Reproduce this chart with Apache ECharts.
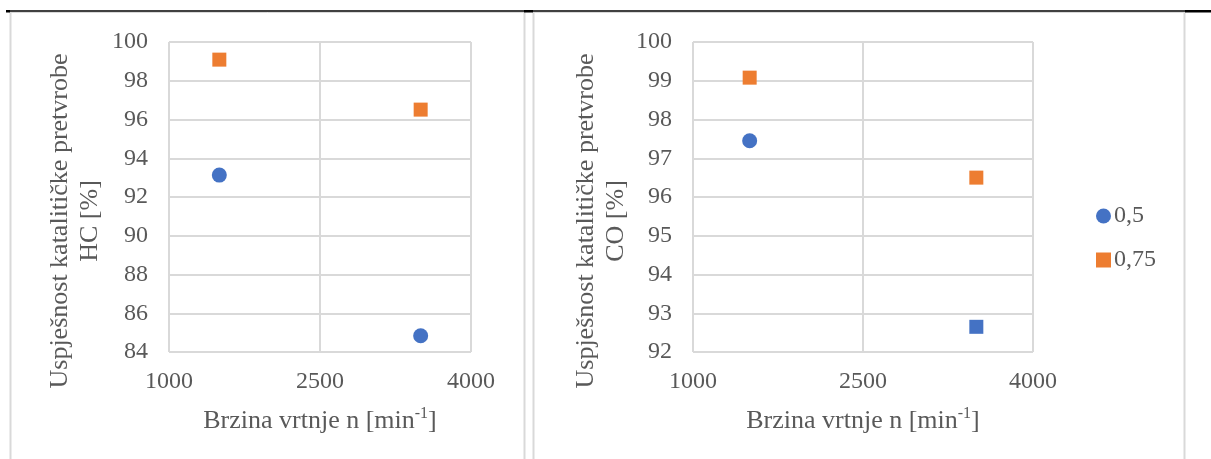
<!DOCTYPE html>
<html>
<head>
<meta charset="utf-8">
<script src="https://cdn.jsdelivr.net/npm/echarts@6/dist/echarts.min.js"></script>
<style>
html,body{margin:0;padding:0;background:#fff;}
#c{width:1211px;height:459px;}
</style>
</head>
<body>
<div id="c"></div>
<script>
// ---- data ----
const speeds = [1500, 3500];               // Brzina vrtnje n [min-1]
const seriesNames = ['0,5', '0,75'];
const hc05 = [93.13, 84.84];
const hc075 = [99.09, 96.51];
const co05 = [97.45, 92.65];
const co075 = [99.08, 96.5];
const xTitle = 'Brzina vrtnje n [min';
const yTitleLine1 = 'Uspješnost katalitičke pretvrobe';
const yTitleHC = 'HC [%]';
const yTitleCO = 'CO [%]';

// ---- styles ----
const FONT = '"Liberation Serif","Times New Roman",serif';
const TXT = '#595959';
const GRID = '#d9d9d9';
const BLUE = '#4472C4';
const ORANGE = '#ED7D31';

function pairs(xs, ys) { return xs.map((x, i) => [x, ys[i]]); }

function xAxis(gi) {
  return {
    gridIndex: gi, type: 'value', min: 1000, max: 4000, interval: 1500,
    axisLine: {show: false}, axisTick: {show: false},
    splitLine: {show: true, showMinLine: true, showMaxLine: true, lineStyle: {color: GRID, width: 2}},
    axisLabel: {color: TXT, fontFamily: FONT, fontSize: 24, margin: 18, formatter: v => String(v)},
    name: '{t|' + xTitle + '}{s|-1}{t|]}',
    nameLocation: 'middle', nameGap: 54,
    nameTextStyle: {
      color: TXT, fontFamily: FONT, fontSize: 26,
      rich: {
        t: {color: TXT, fontFamily: FONT, fontSize: 26, lineHeight: 30},
        s: {color: TXT, fontFamily: FONT, fontSize: 16, lineHeight: 30, verticalAlign: 'top'}
      }
    }
  };
}
function yAxis(gi, min, interval, line2, gap) {
  return {
    gridIndex: gi, type: 'value', min: min, max: 100, interval: interval,
    axisLine: {show: false}, axisTick: {show: false},
    splitLine: {show: true, showMinLine: true, showMaxLine: true, lineStyle: {color: GRID, width: 2}},
    axisLabel: {color: TXT, fontFamily: FONT, fontSize: 24, margin: 21, formatter: v => String(v)},
    name: yTitleLine1 + '\n' + line2,
    nameLocation: 'middle', nameGap: gap, nameRotate: 90,
    nameTextStyle: {color: TXT, fontFamily: FONT, fontSize: 26, lineHeight: 30, padding: [0, 48, 0, 0]}
  };
}

const chart = echarts.init(document.getElementById('c'), null, {renderer: 'canvas'});
chart.setOption({
  animation: false,
  backgroundColor: '#fff',
  grid: [
    {left: 169, top: 42, width: 302, height: 310},
    {left: 693, top: 42, width: 340, height: 310}
  ],
  xAxis: [xAxis(0), xAxis(1)],
  yAxis: [yAxis(0, 84, 2, yTitleHC, 64), yAxis(1, 92, 1, yTitleCO, 62)],
  legend: {
    orient: 'vertical', left: 1091, top: 199,
    itemWidth: 15, itemHeight: 15, itemGap: 20,
    textStyle: {color: TXT, fontFamily: FONT, fontSize: 24, padding: [0, 0, 0, -2]},
    data: [{name: seriesNames[0], icon: 'circle'}, {name: seriesNames[1], icon: 'rect'}]
  },
  series: [
    {name: seriesNames[0], type: 'scatter', xAxisIndex: 0, yAxisIndex: 0, symbol: 'circle', symbolSize: 15,
     itemStyle: {color: BLUE, opacity: 1}, data: pairs(speeds, hc05)},
    {name: seriesNames[1], type: 'scatter', xAxisIndex: 0, yAxisIndex: 0, symbol: 'rect', symbolSize: 14,
     itemStyle: {color: ORANGE, opacity: 1}, data: pairs(speeds, hc075)},
    {name: seriesNames[0], type: 'scatter', xAxisIndex: 1, yAxisIndex: 1,
     symbol: (v, p) => p.dataIndex === 1 ? 'rect' : 'circle',
     symbolSize: (v, p) => p.dataIndex === 1 ? 14 : 15,
     itemStyle: {color: BLUE, opacity: 1}, data: pairs(speeds, co05)},
    {name: seriesNames[1], type: 'scatter', xAxisIndex: 1, yAxisIndex: 1, symbol: 'rect', symbolSize: 14,
     itemStyle: {color: ORANGE, opacity: 1}, data: pairs(speeds, co075)}
  ],
  graphic: [
    // chart-area / cell borders
    {type: 'line', silent: true, shape: {x1: 10.5, y1: 12, x2: 10.5, y2: 459}, style: {stroke: GRID, lineWidth: 2}},
    {type: 'line', silent: true, shape: {x1: 524.5, y1: 12, x2: 524.5, y2: 459}, style: {stroke: GRID, lineWidth: 2}},
    {type: 'line', silent: true, shape: {x1: 533.5, y1: 12, x2: 533.5, y2: 459}, style: {stroke: GRID, lineWidth: 2}},
    {type: 'line', silent: true, shape: {x1: 1184.5, y1: 12, x2: 1184.5, y2: 459}, style: {stroke: GRID, lineWidth: 2}},
    {type: 'line', silent: true, shape: {x1: 10, y1: 12.5, x2: 525, y2: 12.5}, style: {stroke: GRID, lineWidth: 1}},
    {type: 'line', silent: true, shape: {x1: 533, y1: 12.5, x2: 1185, y2: 12.5}, style: {stroke: GRID, lineWidth: 1}},
    // table top rule
    {type: 'line', silent: true, shape: {x1: 6, y1: 11, x2: 1211, y2: 11}, style: {stroke: '#000', lineWidth: 1.5}},
    {type: 'rect', silent: true, shape: {x: 6, y: 10, width: 4, height: 2.5}, style: {fill: '#000'}},
    {type: 'rect', silent: true, shape: {x: 524, y: 10, width: 9, height: 2.5}, style: {fill: '#000'}},
    {type: 'rect', silent: true, shape: {x: 1185, y: 10, width: 26, height: 2.5}, style: {fill: '#000'}}
  ]
});
</script>
</body>
</html>
